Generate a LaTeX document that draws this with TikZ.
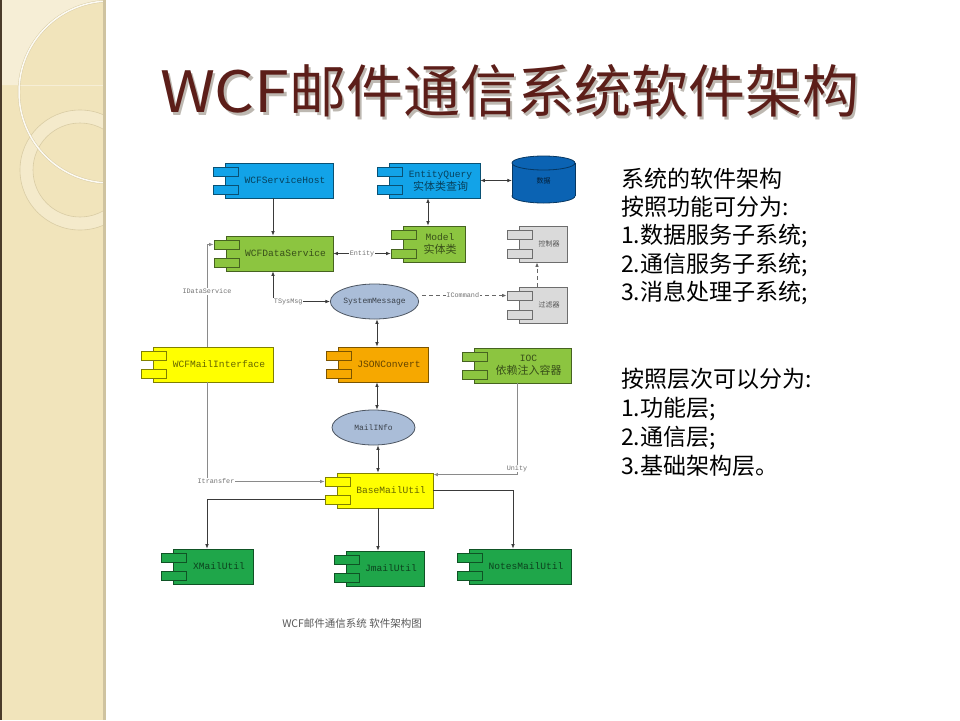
\documentclass[tikz,border=0pt]{standalone}
\usepackage{fontspec}
\setmainfont{Noto Sans CJK SC}
\newfontfamily\cjkf{Noto Sans CJK SC}
\newfontfamily\monof{Liberation Mono}
\usetikzlibrary{shapes.geometric,arrows.meta,calc}
\definecolor{beige}{HTML}{F1E4BB}
\definecolor{lightbeige}{HTML}{F6EED6}
\definecolor{ringc}{HTML}{F4EACB}
\definecolor{ringedge}{HTML}{D9CCA4}
\definecolor{darkstrip}{HTML}{4A3B2A}
\definecolor{panelshade}{HTML}{CFC3A0}
\definecolor{titlered}{HTML}{5C1E19}
\definecolor{shadowgray}{HTML}{BDB8B1}
\definecolor{cblue}{HTML}{12A3E8}
\definecolor{cgreen}{HTML}{8CC540}
\definecolor{cyellow}{HTML}{FFFF00}
\definecolor{corange}{HTML}{F6A800}
\definecolor{cdgreen}{HTML}{1FA64A}
\definecolor{cgray}{HTML}{DADADA}
\definecolor{dbblue}{HTML}{0B63B3}
\definecolor{ellfill}{HTML}{AABDD8}
\definecolor{linec}{HTML}{3A3A3A}
\definecolor{glinec}{HTML}{8A8A8A}
\newcommand\compnode[7]{%
  \node[compbox, fill=#6, draw=#6!50!black, minimum width=#4, minimum height=#5] (#1) at (#2,#3) {};
  \node[tabbox, fill=#6, draw=#6!50!black, anchor=north west] (#1-a) at ($(#1.north west)+(-12,4)$) {};
  \node[tabbox, fill=#6, draw=#6!50!black, anchor=south west] (#1-b) at ($(#1.south west)+(-12,-4)$) {};
  \node[comptext, text=#6!40!black] (#1-t) at ($(#1.center)+(6,0)$) {#7};
}
\newcommand\cj[1]{{\cjkf\fontsize{11}{13}\selectfont #1}}
\begin{document}
\begin{tikzpicture}[x=1pt,y=-1pt,
  compbox/.style={rectangle, inner sep=0pt, line width=0.8pt},
  tabbox/.style={rectangle, inner sep=0pt, minimum width=25pt, minimum height=9pt, line width=0.8pt},
  comptext/.style={inner sep=0pt, align=center, font=\monof\fontsize{9.6}{13}\selectfont},
  msgell/.style={ellipse, draw=ellfill!45!black, fill=ellfill, line width=0.8pt, inner sep=0pt,
     minimum width=85pt, minimum height=35pt, text=ellfill!35!black, font=\monof\fontsize{8}{10}\selectfont},
  lbl/.style={fill=white, inner sep=0.6pt, text=black!55, font=\monof\fontsize{6.8}{8}\selectfont},
  >={Latex[length=4.5pt,width=3.6pt]},
  conn/.style={draw=linec, line width=0.7pt},
  gconn/.style={draw=glinec, line width=0.8pt},
  dconn/.style={draw=black!60, line width=0.9pt, dash pattern=on 4pt off 3pt},
  rtext/.style={anchor=base west, inner sep=0pt, font=\cjkf\fontsize{23}{26}\selectfont},
  titlestyle/.style={anchor=base west, inner sep=0pt, font=\cjkf\fontsize{57}{64}\selectfont}
]
\useasboundingbox (0,0) rectangle (960,720);
\fill[white] (0,0) rectangle (960,720);
% left decorative panel
\fill[beige] (0,0) rectangle (105,720);
\begin{scope}
  \clip (0,0) rectangle (105,720);
  \begin{scope}
    \clip (0,0) rectangle (105,85);
    \fill[lightbeige, even odd rule] (0,0) rectangle (105,85) (110,92) circle[radius=91];
  \end{scope}
  \fill[ringc, even odd rule] (80,170) circle[radius=60] (80,170) circle[radius=47];
  \draw[ringedge, line width=0.6pt] (80,170) circle[radius=60];
  \draw[ringedge, line width=0.6pt] (80,170) circle[radius=47];
  \draw[ringedge, line width=2.4pt] (110,92) circle[radius=91];
  \draw[white!70!lightbeige, line width=1.5pt] (110,92) circle[radius=91];
\end{scope}
\fill[darkstrip] (0,0) rectangle (2,720);
\fill[panelshade] (103,0) rectangle (106,720);
% title (with its drop shadow)
\node[titlestyle, text=shadowgray] (titleshadow) at (162.5,115) {\scalebox{1.1}[1]{WCF}邮件通信系统软件架构};
\node[titlestyle, text=titlered] (title) at (160,112.5) {\scalebox{1.1}[1]{WCF}邮件通信系统软件架构};
% components
\compnode{host}{279}{180.5}{108}{35}{cblue}{WCFServiceHost}
\compnode{query}{434.5}{180.5}{91}{35}{cblue}{EntityQuery\\\cj{实体类查询}}
\compnode{model}{434}{244}{62}{36}{cgreen}{Model\\\cj{实体类}}
\compnode{data}{279.5}{253.5}{107}{35}{cgreen}{WCFDataService}
\compnode{ctrl}{543}{244}{48}{36}{cgray}{{\cjkf\fontsize{7}{8}\selectfont 控制器}}
\compnode{filter}{543}{305}{48}{36}{cgray}{{\cjkf\fontsize{7}{8}\selectfont 过滤器}}
\compnode{mailif}{213}{364.5}{120}{35}{cyellow}{WCFMailInterface}
\compnode{json}{383}{364.5}{90}{35}{corange}{JSONConvert}
\compnode{ioc}{522.5}{365.5}{97}{35}{cgreen}{IOC\\\cj{依赖注入容器}}
\compnode{base}{385}{490.5}{96}{35}{cyellow}{BaseMailUtil}
\compnode{xmail}{213}{566.5}{80}{35}{cdgreen}{XMailUtil}
\compnode{jmail}{385}{568.5}{78}{35}{cdgreen}{JmailUtil}
\compnode{notes}{520}{566.5}{102}{35}{cdgreen}{NotesMailUtil}
% database
\draw[dbblue!55!black, line width=0.8pt, fill=dbblue] (543.5,196) ellipse[x radius=31.5, y radius=7];
\fill[dbblue] (512,163) rectangle (575,196);
\draw[dbblue!55!black, line width=0.8pt] (512,163) -- (512,196) (575,163) -- (575,196);
\draw[dbblue!55!black, line width=0.8pt, fill=dbblue] (543.5,163) ellipse[x radius=31.5, y radius=7];
\node[inner sep=0pt, minimum width=63pt, minimum height=47pt, text=dbblue!30!black,
  font=\cjkf\fontsize{7}{8}\selectfont] (db) at (543.5,181) {数据};
% ellipses
\node[msgell] (sysmsg) at (374.5,301.5) {SystemMessage};
\node[msgell, minimum width=83pt] (mailinfo) at (373.5,427.5) {MailINfo};
% helper coordinates for vertical lines
\coordinate (hx) at (273,0);
\coordinate (qx) at (428,0);
\coordinate (fx) at (537,0);
\coordinate (jx) at (377,0);
\coordinate (bx) at (378,0);
\coordinate (lx) at (207,0);
\coordinate (ux) at (517,0);
\coordinate (nx) at (513,0);
% connectors
\draw[conn,->] (host.south -| hx) -- (data.north -| hx);
\draw[conn,<->] (query.south -| qx) -- (model.north -| qx);
\draw[conn,<->] (query.east) -- (query.east -| db.west);
\draw[conn,<->] (data.east |- model-b.west) -- (model-b.west) node[lbl, midway] {Entity};
\draw[conn,<->] (data.south -| hx) |- (sysmsg.west) node[lbl, pos=0.5, anchor=west] {TSysMsg};
\draw[dconn,<-] (filter-a.west) -- (filter-a.west -| sysmsg.east) node[lbl, midway] {ICommand};
\draw[dconn,->] (filter.north -| fx) -- (ctrl.south -| fx);
\draw[conn,<->] (sysmsg.south -| jx) -- (json.north -| jx);
\draw[conn,<->] (json.south -| jx) -- (mailinfo.north -| jx);
\draw[conn,<->] (mailinfo.south -| bx) -- (base.north -| bx);
\draw[gconn,->] (mailif.north -| lx) |- (data-a.west) node[lbl, pos=0.27] {IDataService};
\draw[gconn,->] (mailif.south -| lx) |- (base-a.west) node[lbl, pos=0.5, xshift=9pt] {Itransfer};
\draw[gconn,->] (ioc.south -| ux) |- ([yshift=-2pt]base.north east) node[lbl, pos=0.467] {Unity};
\draw[conn,->] (base-b.west) -| (xmail.north -| lx);
\draw[conn,->] (base.south -| bx) -- (jmail.north -| bx);
\draw[conn,->] (base.east) -| (notes.north -| nx);
% caption
\node[inner sep=0pt, text=black!65, font=\cjkf\fontsize{10.5}{12}\selectfont] (cap) at (352,623) {WCF邮件通信系统\ 软件架构图};
% right text
\node[rtext] (r1) at (621,187) {系统的软件架构};
\node[rtext] (r2) at (621,215) {按照功能可分为:};
\node[rtext] (r3) at (621,243.5) {1.数据服务子系统;};
\node[rtext] (r4) at (621,272) {2.通信服务子系统;};
\node[rtext] (r5) at (621,300.5) {3.消息处理子系统;};
\node[rtext] (r6) at (621,387) {按照层次可以分为:};
\node[rtext] (r7) at (621,416) {1.功能层;};
\node[rtext] (r8) at (621,445) {2.通信层;};
\node[rtext] (r9) at (621,474) {3.基础架构层。};
\end{tikzpicture}
\end{document}
